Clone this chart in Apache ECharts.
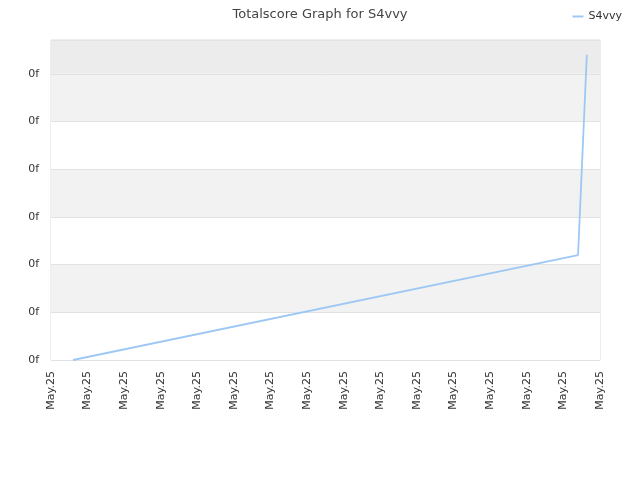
<!DOCTYPE html>
<html><head><meta charset="utf-8">
<script src="https://cdn.jsdelivr.net/npm/echarts@6/dist/echarts.min.js"></script>
<style>html,body{margin:0;padding:0;background:#fff}#c{width:640px;height:480px}</style>
</head><body><div id="c"></div>
<script>
var seriesName = 'S4vvy';
var xTickLabel = 'May.25';
var yTickLabel = '0f';
var xValues = [0.6, 14.4, 14.64];
var yValues = [0, 2.2, 6.4];

var chart = echarts.init(document.getElementById('c'));
chart.setOption({
  animation: false,
  title: {text: 'Totalscore Graph for S4vvy', left: 'center', top: 3,
    textStyle: {fontFamily: 'DejaVu Sans', fontSize: 13, fontWeight: 'normal', color: '#444'}},
  legend: {right: 13, top: 6, icon: 'rect', itemWidth: 11, itemHeight: 2, itemGap: 10,
    textStyle: {fontFamily: 'DejaVu Sans', fontSize: 11, color: '#333'}},
  grid: {left: 51, right: 40, top: 40, bottom: 120, show: true, borderColor: '#dcdcdc', borderWidth: 1, backgroundColor: 'transparent'},
  xAxis: {type: 'value', min: 0, max: 15, interval: 1,
    axisLine: {show: false}, axisTick: {show: false}, splitLine: {show: false},
    axisLabel: {rotate: 90, formatter: function(){return xTickLabel;}, fontFamily: 'DejaVu Sans', fontSize: 11, color: '#333', margin: 11}},
  yAxis: {type: 'value', min: 0, max: 6.71, interval: 1,
    axisLine: {show: false}, axisTick: {show: false},
    splitLine: {show: true, lineStyle: {color: '#e2e2e2'}},
    splitArea: {show: true, areaStyle: {color: ['#ffffff','#f2f2f2','#ffffff','#f2f2f2','#ffffff','#f2f2f2','#ececec']}},
    axisLabel: {showMaxLabel: false, formatter: function(){return yTickLabel;}, fontFamily: 'DejaVu Sans', fontSize: 11, color: '#333', margin: 12}},
  series: [{name: seriesName, type: 'line', showSymbol: false, symbol: 'none',
    lineStyle: {color: '#9dc8f4', width: 1.8}, itemStyle: {color: '#9dc8f4'},
    data: xValues.map(function(x, i){return [x, yValues[i]];})}]
});
</script></body></html>
